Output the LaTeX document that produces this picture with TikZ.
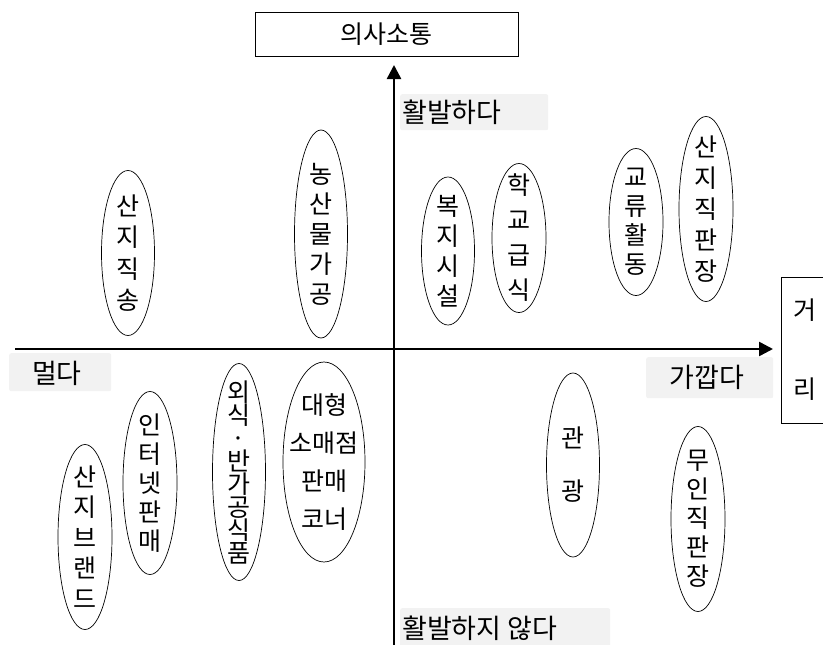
\documentclass[tikz,border=0pt]{standalone}
\usepackage{fontspec}
\setmainfont{Noto Sans CJK KR}
\usetikzlibrary{shapes.geometric,arrows.meta}
\definecolor{lblgray}{RGB}{242,242,242}
\begin{document}
\begin{tikzpicture}[x=1pt,y=-1pt,
  oval/.style 2 args={draw, ellipse, line width=0.7pt, inner sep=0pt,
     minimum width=#1pt, minimum height=#2pt},
  ovtxt/.style={inner sep=0pt, align=center, font=\fontsize{25}{#1}\selectfont},
  lblbg/.style={fill=lblgray, rounded corners=2pt, inner sep=0pt, anchor=north west},
  lbltxt/.style={inner sep=0pt, font=\fontsize{27}{30}\selectfont},
  axis/.style={line width=2.5pt, -{Triangle[length=14pt,width=14pt]}},
  titlebox/.style={draw, line width=0.7pt, inner sep=0pt, font=\fontsize{25}{29}\selectfont}]
\useasboundingbox (0,0) rectangle (823,645);
% axes
\coordinate (vb) at (394,660);
\coordinate (vt) at (394,65);
\coordinate (hl) at (15,349);
\coordinate (hr) at (773,349);
\draw[axis] (vb) -- (vt);
\draw[axis] (hl) -- (hr);
% title boxes
\node[titlebox, minimum width=263pt, minimum height=44pt] (comm) at (386.5,34) {의사소통};
\node[titlebox, minimum width=48pt, minimum height=146pt, align=center,
  font=\fontsize{25}{79}\selectfont] (dist) at (805,350) {거\\리};
% gray labels
\node[lblbg, minimum width=148pt, minimum height=36pt] (upbg) at (400,94) {};
\node[lbltxt, anchor=west] (up) at (402,112) {활발하다};
\node[lblbg, minimum width=210pt, minimum height=45pt] (downbg) at (400,608) {};
\node[lbltxt, anchor=west] (down) at (402,628) {활발하지 않다};
\node[lblbg, minimum width=102pt, minimum height=38pt] (farbg) at (9,353) {};
\node[lbltxt] (far) at (57,373) {멀다};
\node[lblbg, minimum width=127pt, minimum height=41pt] (nearbg) at (646,357) {};
\node[lbltxt] (near) at (707,377) {가깝다};
% ellipses
\node[oval={53}{165}] (e1) at (128,253) {};
\node[ovtxt=31.5] at (e1) {산\\지\\직\\송};
\node[oval={53}{208}] (e2) at (321,234) {};
\node[ovtxt=30] at (e2) {농\\산\\물\\가\\공};
\node[oval={53}{148}] (e3) at (448,251) {};
\node[ovtxt=30] at (e3) {복\\지\\시\\설};
\node[oval={54}{149}] (e4) at (519,238) {};
\node[ovtxt=35] at (e4) {학\\교\\급\\식};
\node[oval={54}{147}] (e5) at (636,222) {};
\node[ovtxt=29] at (e5) {교\\류\\활\\동};
\node[oval={54}{185}] (e6) at (706,209) {};
\node[ovtxt=31] at (e6) {산\\지\\직\\판\\장};
\node[oval={54}{185}] (e7) at (85,537) {};
\node[ovtxt=30.5] at (e7) {산\\지\\브\\랜\\드};
\node[oval={54}{183}] (e8) at (150,483) {};
\node[ovtxt=29] at (e8) {인\\터\\넷\\판\\매};
\node[oval={53}{217}] (e9) at (239,472) {};
\node[ovtxt=23] at (e9) {외\\식\\·\\반\\가\\공\\식\\품};
\node[oval={82}{200}] (e10) at (324,462) {};
\node[ovtxt=38] at (e10) {대형\\소매점\\판매\\코너};
\node[oval={53}{184}] (e11) at (573,465) {};
\node[ovtxt=53] at (e11) {관\\광};
\node[oval={54}{185}] (e12) at (698,519) {};
\node[ovtxt=29] at (e12) {무\\인\\직\\판\\장};
\end{tikzpicture}
\end{document}
